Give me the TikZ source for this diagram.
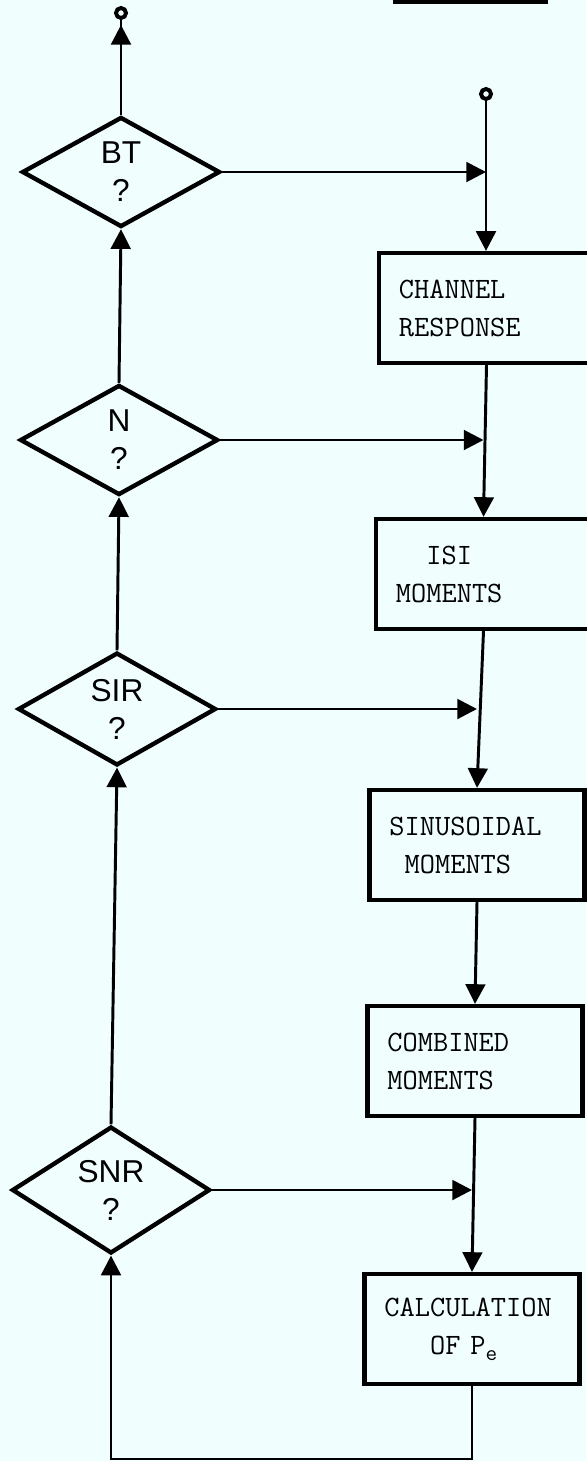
\documentclass[tikz,border=0pt]{standalone}
\usepackage{fontspec}
\newfontfamily\qfont{Liberation Sans}
\usetikzlibrary{positioning,
        shapes,
        arrows.meta}
\usepackage{xcolor}
\definecolor{paper}{HTML}{F0FEFE}

\begin{document}
\begin{tikzpicture}[x=0.025cm, y=-0.025cm,
    test/.style={diamond, draw, line width=3.1pt, minimum width=4.95cm, minimum height=2.75cm, inner sep=0pt, align=center, font=\qfont\fontsize{22.5}{27}\selectfont},
    block/.style={rectangle, draw, line width=3pt, text width=4.375cm, inner xsep=0.5cm, minimum height=2.75cm, align=left, font=\ttfamily\fontsize{21}{27}\selectfont},
    term/.style={circle, draw, line width=2.8pt, inner sep=0pt, minimum size=0.25cm},
    wire/.style={line width=2.1pt},
    arr/.style={line width=2.1pt, -{Triangle[length=14pt,width=14pt]}}]
    \useasboundingbox (0,0) rectangle (586,1461);
    \fill[paper] (0,0) rectangle (586,1461);
    \fill (393,0) rectangle (548,4);

    \node [term] (exit) at (121,13) {};
    \node [term] (entry) at (486,94) {};
    \node [test] (bt) at (121,172) {BT\\?};
    \node [test] (n) at (119,440) {N\\?};
    \node [test] (sir) at (117,709) {SIR\\?};
    \node [test] (snr) at (111,1190) {SNR\\?};
    \node [block] (chan) at (486.5,308) {CHANNEL\\RESPONSE};
    \node [block] (isi) at (483.5,574) {\hphantom{XX}ISI\\MOMENTS};
    \node [block] (sin) at (477,845) {SINUSOIDAL\\\hphantom{X}MOMENTS};
    \node [block] (comb) at (475,1061) {COMBINED\\MOMENTS};
    \node [block] (calc) at (472,1329) {CALCULATION\\\hphantom{XXX}OF P\raisebox{-0.45ex}{\fontsize{16}{16}\selectfont e}};
    \coordinate (back) at (108,1459);

    \draw [wire] (bt.north) -- (exit.south);
    \draw [arr, shorten >=3.5pt] (bt.north) -- (exit.south);
    \draw [arr] (n.north) -- (bt.south);
    \draw [arr] (sir.north) -- (n.south);
    \draw [arr] (snr.north) -- (sir.south);

    \draw [arr] (entry.south) -- (entry |- chan.north);
    \draw [arr] (chan.south) -- (isi.north);
    \draw [arr] (isi.south) -- (sin.north);
    \draw [arr] (sin.south) -- (comb.north);
    \draw [arr] (comb.south) -- (calc.north);
    \draw [arr] (calc.south) -- (calc.south |- back) -| (snr.south);

    \draw [arr] (bt.east) -- (bt.east -| entry);
    \draw [arr] (n.east) -- (n.east -| isi.north);
    \draw [arr] (sir.east) -- (sir.east -| sin.north);
    \draw [arr] (snr.east) -- (snr.east -| calc.north);
\end{tikzpicture}
\end{document}
